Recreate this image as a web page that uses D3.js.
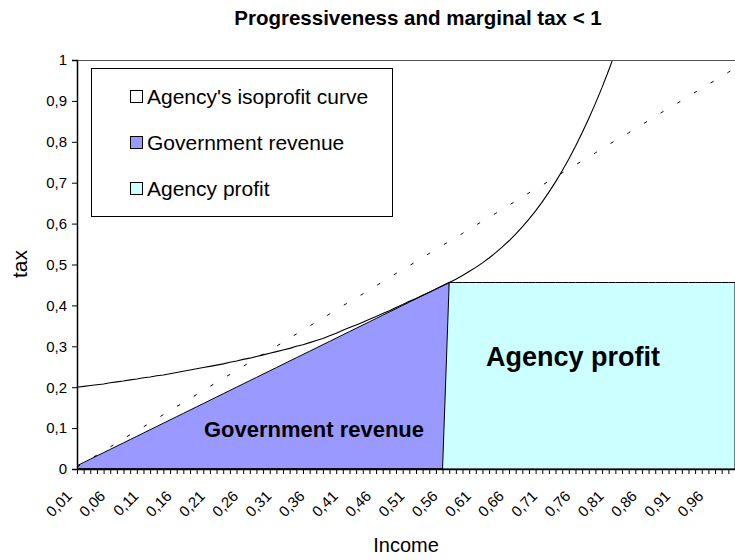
<!DOCTYPE html>
<html>
<head>
<meta charset="utf-8">
<script src="https://cdn.jsdelivr.net/npm/d3@7"></script>
<style>
  body { margin: 0; background: #fff; }
  text { font-family: Arial, "Liberation Sans", sans-serif; }
</style>
</head>
<body>
<div id="chart"></div>
<script>
// income categories (x axis)
var incomes = [0.01, 0.02, 0.03, 0.04, 0.05, 0.06, 0.07, 0.08, 0.09, 0.10,
  0.11, 0.12, 0.13, 0.14, 0.15, 0.16, 0.17, 0.18, 0.19, 0.20,
  0.21, 0.22, 0.23, 0.24, 0.25, 0.26, 0.27, 0.28, 0.29, 0.30,
  0.31, 0.32, 0.33, 0.34, 0.35, 0.36, 0.37, 0.38, 0.39, 0.40,
  0.41, 0.42, 0.43, 0.44, 0.45, 0.46, 0.47, 0.48, 0.49, 0.50,
  0.51, 0.52, 0.53, 0.54, 0.55, 0.56, 0.57, 0.58, 0.59, 0.60,
  0.61, 0.62, 0.63, 0.64, 0.65, 0.66, 0.67, 0.68, 0.69, 0.70,
  0.71, 0.72, 0.73, 0.74, 0.75, 0.76, 0.77, 0.78, 0.79, 0.80,
  0.81, 0.82, 0.83, 0.84, 0.85, 0.86, 0.87, 0.88, 0.89, 0.90,
  0.91, 0.92, 0.93, 0.94, 0.95, 0.96, 0.97, 0.98, 0.99, 1.00]

var xTickLabels = ["0,01", "0,06", "0,11", "0,16", "0,21", "0,26", "0,31", "0,36", "0,41", "0,46",
  "0,51", "0,56", "0,61", "0,66", "0,71", "0,76", "0,81", "0,86", "0,91", "0,96"]

var yTicks = [0, 0.1, 0.2, 0.3, 0.4, 0.5, 0.6, 0.7, 0.8, 0.9, 1]

// Government revenue (area)
var govRevenue = [0.008, 0.016, 0.024, 0.032, 0.040, 0.048, 0.056, 0.064, 0.072, 0.080,
  0.088, 0.096, 0.104, 0.112, 0.120, 0.128, 0.136, 0.144, 0.152, 0.160,
  0.168, 0.176, 0.184, 0.192, 0.200, 0.208, 0.216, 0.224, 0.232, 0.240,
  0.248, 0.256, 0.264, 0.272, 0.280, 0.288, 0.296, 0.304, 0.312, 0.320,
  0.328, 0.336, 0.344, 0.352, 0.360, 0.368, 0.376, 0.384, 0.392, 0.400,
  0.408, 0.416, 0.424, 0.432, 0.440, 0.448, 0.456, 0, 0, 0,
  0, 0, 0, 0, 0, 0, 0, 0, 0, 0,
  0, 0, 0, 0, 0, 0, 0, 0, 0, 0,
  0, 0, 0, 0, 0, 0, 0, 0, 0, 0,
  0, 0, 0, 0, 0, 0, 0, 0, 0, 0]

// Agency profit (area)
var agencyProfit = [0, 0, 0, 0, 0, 0, 0, 0, 0, 0,
  0, 0, 0, 0, 0, 0, 0, 0, 0, 0,
  0, 0, 0, 0, 0, 0, 0, 0, 0, 0,
  0, 0, 0, 0, 0, 0, 0, 0, 0, 0,
  0, 0, 0, 0, 0, 0, 0, 0, 0, 0,
  0, 0, 0, 0, 0, 0, 0.456, 0.456, 0.456, 0.456,
  0.456, 0.456, 0.456, 0.456, 0.456, 0.456, 0.456, 0.456, 0.456, 0.456,
  0.456, 0.456, 0.456, 0.456, 0.456, 0.456, 0.456, 0.456, 0.456, 0.456,
  0.456, 0.456, 0.456, 0.456, 0.456, 0.456, 0.456, 0.456, 0.456, 0.456,
  0.456, 0.456, 0.456, 0.456, 0.456, 0.456, 0.456, 0.456, 0.456, 0.456]

// Agency's isoprofit curve (touches revenue at 0,57, goes off the top after 0,82)
var isoprofit = [0.200, 0.202, 0.204, 0.206, 0.208, 0.211, 0.213, 0.215, 0.218, 0.220,
  0.223, 0.225, 0.228, 0.230, 0.233, 0.236, 0.239, 0.242, 0.245, 0.248,
  0.251, 0.254, 0.257, 0.261, 0.264, 0.268, 0.271, 0.275, 0.279, 0.283,
  0.287, 0.291, 0.295, 0.300, 0.304, 0.309, 0.314, 0.319, 0.326, 0.332,
  0.339, 0.346, 0.352, 0.359, 0.366, 0.373, 0.380, 0.387, 0.395, 0.402,
  0.410, 0.417, 0.425, 0.432, 0.440, 0.448, 0.456, 0.464, 0.473, 0.483,
  0.493, 0.504, 0.516, 0.529, 0.543, 0.558, 0.574, 0.592, 0.611, 0.631,
  0.653, 0.677, 0.702, 0.729, 0.758, 0.789, 0.822, 0.857, 0.894, 0.933,
  0.975, 1.019, 1.065]

// dotted diagonal
var diagonal = [0.005, 0.015, 0.025, 0.034, 0.044, 0.054, 0.064, 0.074, 0.084, 0.094,
  0.103, 0.113, 0.123, 0.133, 0.143, 0.153, 0.162, 0.172, 0.182, 0.192,
  0.202, 0.212, 0.222, 0.231, 0.241, 0.251, 0.261, 0.271, 0.281, 0.291,
  0.300, 0.310, 0.320, 0.330, 0.340, 0.350, 0.359, 0.369, 0.379, 0.389,
  0.399, 0.409, 0.419, 0.428, 0.438, 0.448, 0.458, 0.468, 0.478, 0.488,
  0.497, 0.507, 0.517, 0.527, 0.537, 0.547, 0.556, 0.566, 0.576, 0.586,
  0.596, 0.606, 0.616, 0.625, 0.635, 0.645, 0.655, 0.665, 0.675, 0.685,
  0.694, 0.704, 0.714, 0.724, 0.734, 0.744, 0.753, 0.763, 0.773, 0.783,
  0.793, 0.803, 0.813, 0.822, 0.832, 0.842, 0.852, 0.862, 0.872, 0.882,
  0.891, 0.901, 0.911, 0.921, 0.931, 0.941, 0.950, 0.960, 0.970, 0.980]

var legendItems = ["Agency's isoprofit curve", "Government revenue", "Agency profit"]
var legendColors = ["#FFFFFF", "#9999FF", "#CCFFFF"]

var W = 735, H = 560
var plot = { left: 77, right: 735, top: 60, bottom: 469 }

var svg = d3.select("#chart").append("svg")
  .attr("width", W)
  .attr("height", H)

var x = d3.scalePoint().domain(incomes).range([plot.left, plot.right])
var y = d3.scaleLinear().domain([0, 1]).range([plot.bottom, plot.top])

svg.append("clipPath").attr("id", "plotclip")
  .append("rect")
  .attr("x", plot.left).attr("y", plot.top)
  .attr("width", plot.right - plot.left).attr("height", plot.bottom - plot.top)

var g = svg.append("g").attr("clip-path", "url(#plotclip)")

var area = function(vals) {
  return d3.area()
    .x((d, i) => x(incomes[i]))
    .y0(y(0))
    .y1(d => y(d))(vals)
}

g.append("path")
  .attr("d", area(govRevenue))
  .attr("fill", "#9999FF")
  .attr("stroke", "#000")
  .attr("stroke-width", 1)

g.append("path")
  .attr("d", area(agencyProfit))
  .attr("fill", "#CCFFFF")
  .attr("stroke", "#000")
  .attr("stroke-width", 1)

g.append("path")
  .attr("d", d3.line().x((d, i) => x(incomes[i])).y(d => y(d))(diagonal))
  .attr("fill", "none")
  .attr("stroke", "#000")
  .attr("stroke-width", 1)
  .attr("stroke-dasharray", "3.5,16")

g.append("path")
  .attr("d", d3.line().x((d, i) => x(incomes[i])).y(d => y(d))(isoprofit))
  .attr("fill", "none")
  .attr("stroke", "#000")
  .attr("stroke-width", 1.1)

// plot area top border
svg.append("line")
  .attr("x1", plot.left).attr("x2", plot.right)
  .attr("y1", plot.top + 0.5).attr("y2", plot.top + 0.5)
  .attr("stroke", "#555")

// axes
var yAxis = svg.append("g")
  .attr("transform", "translate(" + plot.left + ",0)")
  .call(d3.axisLeft(y).tickValues(yTicks).tickSize(5).tickFormat(d => String(d).replace(".", ",")))
yAxis.select(".domain").attr("stroke", "#000").attr("stroke-width", 1.5)
yAxis.selectAll("text").attr("font-size", 15).attr("fill", "#000").attr("x", -10)
  .style("font-family", "Arial, 'Liberation Sans', sans-serif")

var xAxis = svg.append("g")
  .attr("transform", "translate(0," + plot.bottom + ")")
  .call(d3.axisBottom(x).tickSize(5).tickSizeOuter(0).tickFormat(""))
xAxis.select(".domain").attr("stroke", "#000").attr("stroke-width", 1.5)

svg.append("g").selectAll("text")
  .data(xTickLabels)
  .enter().append("text")
  .attr("transform", d => "translate(" + (x(parseFloat(d.replace(",", "."))) - 4) + "," + 497 + ") rotate(-45)")
  .attr("text-anchor", "end")
  .attr("font-size", 15)
  .text(d => d)

// legend
var legend = svg.append("g")
legend.append("rect")
  .attr("x", 91.5).attr("y", 68.5)
  .attr("width", 301).attr("height", 148)
  .attr("fill", "#fff").attr("stroke", "#000")
var rows = legend.selectAll("g.row").data(legendItems).enter().append("g")
  .attr("class", "row")
  .attr("transform", (d, i) => "translate(130," + (97 + i * 46) + ")")
rows.append("rect")
  .attr("x", 0.5).attr("y", -6.5)
  .attr("width", 12).attr("height", 12)
  .attr("fill", (d, i) => legendColors[i])
  .attr("stroke", "#000")
rows.append("text")
  .attr("x", 17).attr("y", 7)
  .attr("font-size", 21)
  .text(d => d)

// labels inside the plot
svg.append("text")
  .attr("x", 573).attr("y", 366)
  .attr("text-anchor", "middle")
  .attr("font-weight", "bold")
  .attr("font-size", 27)
  .text("Agency profit")

svg.append("text")
  .attr("x", 314).attr("y", 437)
  .attr("text-anchor", "middle")
  .attr("font-weight", "bold")
  .attr("font-size", 22)
  .text("Government revenue")

// titles
svg.append("text")
  .attr("x", 418).attr("y", 25)
  .attr("text-anchor", "middle")
  .attr("font-weight", "bold")
  .attr("font-size", 20.5)
  .text("Progressiveness and marginal tax < 1")

svg.append("text")
  .attr("x", 406).attr("y", 552)
  .attr("text-anchor", "middle")
  .attr("font-size", 20)
  .text("Income")

svg.append("text")
  .attr("transform", "translate(27,264) rotate(-90)")
  .attr("text-anchor", "middle")
  .attr("font-size", 21)
  .text("tax")
</script>
</body>
</html>
